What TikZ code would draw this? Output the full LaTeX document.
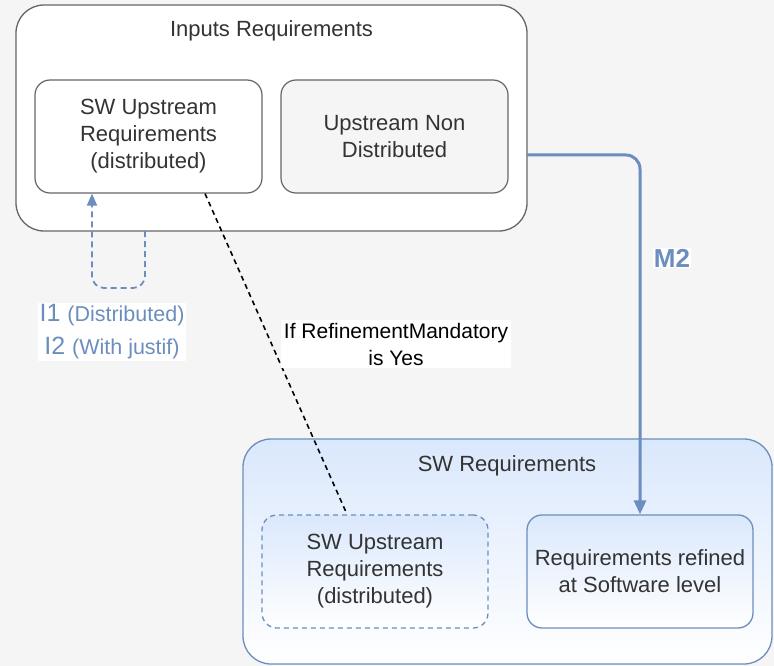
\documentclass[tikz,border=0pt]{standalone}
\usepackage{fontspec}
\setmainfont{Liberation Sans}
\usetikzlibrary{arrows.meta,calc}
\definecolor{bgc}{HTML}{F5F5F5}
\definecolor{grayline}{HTML}{666666}
\definecolor{blueline}{HTML}{6C8EBF}
\definecolor{bluefill}{HTML}{DAE8FC}
\definecolor{txt}{HTML}{333333}
\tikzset{
  grpbox/.style={draw=grayline, line width=1.3pt, rounded corners=28pt, fill=white},
  innerbox/.style={draw=grayline, line width=1.2pt, rounded corners=15pt, fill=white, text=txt,
    minimum width=227pt, minimum height=113pt, align=center, font=\fontsize{22}{27}\selectfont},
  bluebox/.style={draw=blueline, line width=1.3pt, rounded corners=15pt, top color=bluefill, bottom color=white,
    text=txt, minimum width=226pt, minimum height=113pt, align=center, font=\fontsize{22}{27}\selectfont},
  titletext/.style={text=txt, font=\fontsize{22}{26}\selectfont},
  elabel/.style={fill=white, align=center, inner sep=3pt},
}
\begin{document}
\begin{tikzpicture}[x=1pt,y=-1pt]
\fill[bgc] (0,0) rectangle (774,666);
\useasboundingbox (0,0) rectangle (774,666);

% Inputs group
\draw[grpbox] (16,5) rectangle (527,231);
\node[titletext] (inptitle) at (271.5,31) {Inputs Requirements};
\coordinate (inpright) at (527,155);
\coordinate (inpbot) at (145,231);
\node[innerbox] (swup) at (148.5,136.5) {SW Upstream\\Requirements\\(distributed)};
\node[innerbox, fill=bgc] (nondist) at (394.5,136.5) {Upstream Non\\Distributed};

% SW Requirements group
\draw[draw=blueline, line width=1.3pt, rounded corners=28pt, top color=bluefill, bottom color=white] (243,439) rectangle (772,664);
\node[titletext] (swtitle) at (507,466) {SW Requirements};
\node[bluebox, dashed, dash pattern=on 5pt off 4pt] (swup2) at (375,571.5) {SW Upstream\\Requirements\\(distributed)};
\node[bluebox] (refined) at (640,571.5) {Requirements refined\\at Software level};

% M2 connector
\draw[blueline, line width=3pt, rounded corners=14pt, -{Triangle[width=12pt,length=14pt]}]
  (inpright) -- (inpright -| refined.north) -- (refined.north);
\node[elabel, text=blueline, font=\fontsize{26}{28}\selectfont\bfseries, inner sep=1pt] (m2) at (672,258) {M2};

% I1/I2 loop
\draw[blueline, line width=1.8pt, dash pattern=on 6pt off 4pt, rounded corners=12pt, -{Triangle[width=10pt,length=12pt]}]
  (inpbot) -- ++(0,57) -| (swup.south -| 92,0);
\node[elabel, text=blueline, inner sep=2pt, font=\fontsize{25}{33}\selectfont] (ilabel) at (112,332)
  {I1 {\fontsize{21.5}{33}\selectfont (Distributed)}\\
   I2 {\fontsize{21.5}{33}\selectfont (With justif)}};

% Dashed black connector
\draw[black, line width=1.6pt, dash pattern=on 5pt off 4pt] (swup.south -| 205,0) -- (swup2.north -| 347,0);
\node[elabel, text=black, font=\fontsize{21}{27}\selectfont] (rlabel) at (396,344) {If RefinementMandatory\\is Yes};
\end{tikzpicture}
\end{document}
